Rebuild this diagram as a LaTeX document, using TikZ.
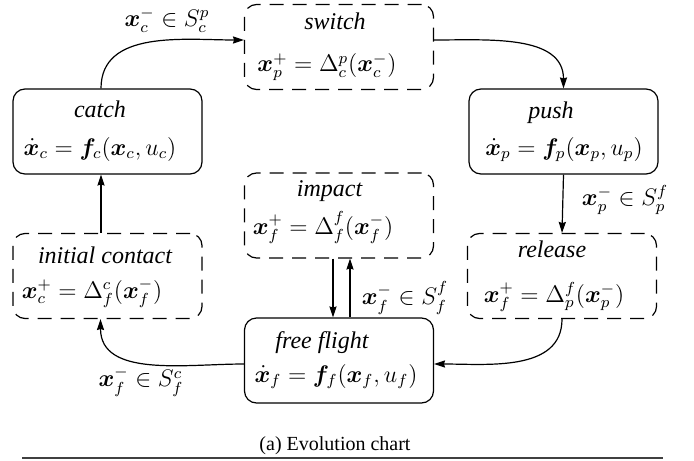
\documentclass[tikz,border=0pt]{standalone}
\usepackage{amsmath,bm}
\usepackage[no-math]{fontspec}
\setmainfont{Liberation Serif}
\usetikzlibrary{arrows.meta}
\begin{document}
\begin{tikzpicture}[x=0.5pt,y=-0.5pt,
  box/.style={draw, rounded corners=6pt, minimum width=94.5pt, minimum height=42.5pt, inner sep=0pt, line width=0.6pt},
  dbox/.style={box, dash pattern=on 7pt off 4.5pt},
  ttl/.style={anchor=base, inner sep=0pt, font=\fontsize{12}{14}\selectfont\itshape},
  eqn/.style={anchor=base, inner sep=0pt, font=\fontsize{12}{14}\selectfont},
  lbl/.style={inner sep=0pt, font=\fontsize{12}{14}\selectfont},
  arr/.style={-{Stealth[length=5.5pt,width=3.6pt,inset=0.6pt]}, line width=0.6pt}]
\useasboundingbox (0,0) rectangle (694,460);

% boxes
\node[box]  (catch)   at (107.5,131.5) {};
\node[dbox] (switch)  at (339,47) {};
\node[box]  (push)    at (563.5,131.5) {};
\node[dbox] (impact)  at (339,215.5) {};
\node[dbox] (initial) at (107.5,276) {};
\node[dbox] (release) at (562,276) {};
\node[box]  (free)    at (339,360.5) {};

% texts
\node[ttl] (catch-t) at (100,117) {catch};
\node[eqn] (catch-e) at (100,155) {$\dot{\bm{x}}_c=\bm{f}_c(\bm{x}_c,u_c)$};
\node[ttl] (switch-t) at (335,30) {switch};
\node[eqn] (switch-e) at (327,72) {$\bm{x}_p^{+}=\Delta_c^{p}(\bm{x}_c^{-})$};
\node[ttl] (push-t) at (551,118) {push};
\node[eqn] (push-e) at (564,155) {$\dot{\bm{x}}_p=\bm{f}_p(\bm{x}_p,u_p)$};
\node[ttl] (impact-t) at (329.5,196) {impact};
\node[eqn] (impact-e) at (323,234) {$\bm{x}_f^{+}=\Delta_f^{f}(\bm{x}_f^{-})$};
\node[ttl] (initial-t) at (105,263) {initial contact};
\node[eqn] (initial-e) at (92,298) {$\bm{x}_c^{+}=\Delta_f^{c}(\bm{x}_f^{-})$};
\node[ttl] (release-t) at (552,257) {release};
\node[eqn] (release-e) at (554,302) {$\bm{x}_f^{+}=\Delta_p^{f}(\bm{x}_p^{-})$};
\node[ttl] (free-t) at (322,348) {free flight};
\node[eqn] (free-e) at (336,382) {$\dot{\bm{x}}_f=\bm{f}_f(\bm{x}_f,u_f)$};

% connectors
\draw[arr] ([xshift=-3.25pt]catch.north) to[out=90,in=180] ([yshift=3.5pt]switch.west);
\draw[arr] ([yshift=3.5pt]switch.east) to[out=0,in=90] (push.north);
\draw[arr] (push.south) -- (release.north);
\draw[arr] (release.south) to[out=-90,in=0] ([yshift=-1.75pt]free.east);
\draw[arr] ([yshift=-1.75pt]free.west) to[out=180,in=-90] ([xshift=-3.5pt]initial.south);
\draw[arr] ([xshift=-3.25pt]initial.north) -- ([xshift=-3.25pt]catch.south);
\draw[arr] ([xshift=-3pt]impact.south) -- ([xshift=-3pt]free.north);
\draw[arr] ([xshift=5.5pt]free.north) -- ([xshift=5.5pt]impact.south);

% labels
\node[lbl] (l1) at (167,20) {$\bm{x}_c^{-}\in S_c^{p}$};
\node[lbl] (l2) at (625,200) {$\bm{x}_p^{-}\in S_p^{f}$};
\node[lbl] (l3) at (405,298) {$\bm{x}_f^{-}\in S_f^{f}$};
\node[lbl] (l4) at (141,382) {$\bm{x}_f^{-}\in S_f^{c}$};

% caption and rule
\node[anchor=base, inner sep=0pt, font=\fontsize{10}{12}\selectfont] (cap) at (335,450) {(a) Evolution chart};
\coordinate (r1) at (22,458);
\coordinate (r2) at (663,458);
\draw[line width=0.8pt, black!75] (r1) -- (r2);
\end{tikzpicture}
\end{document}
